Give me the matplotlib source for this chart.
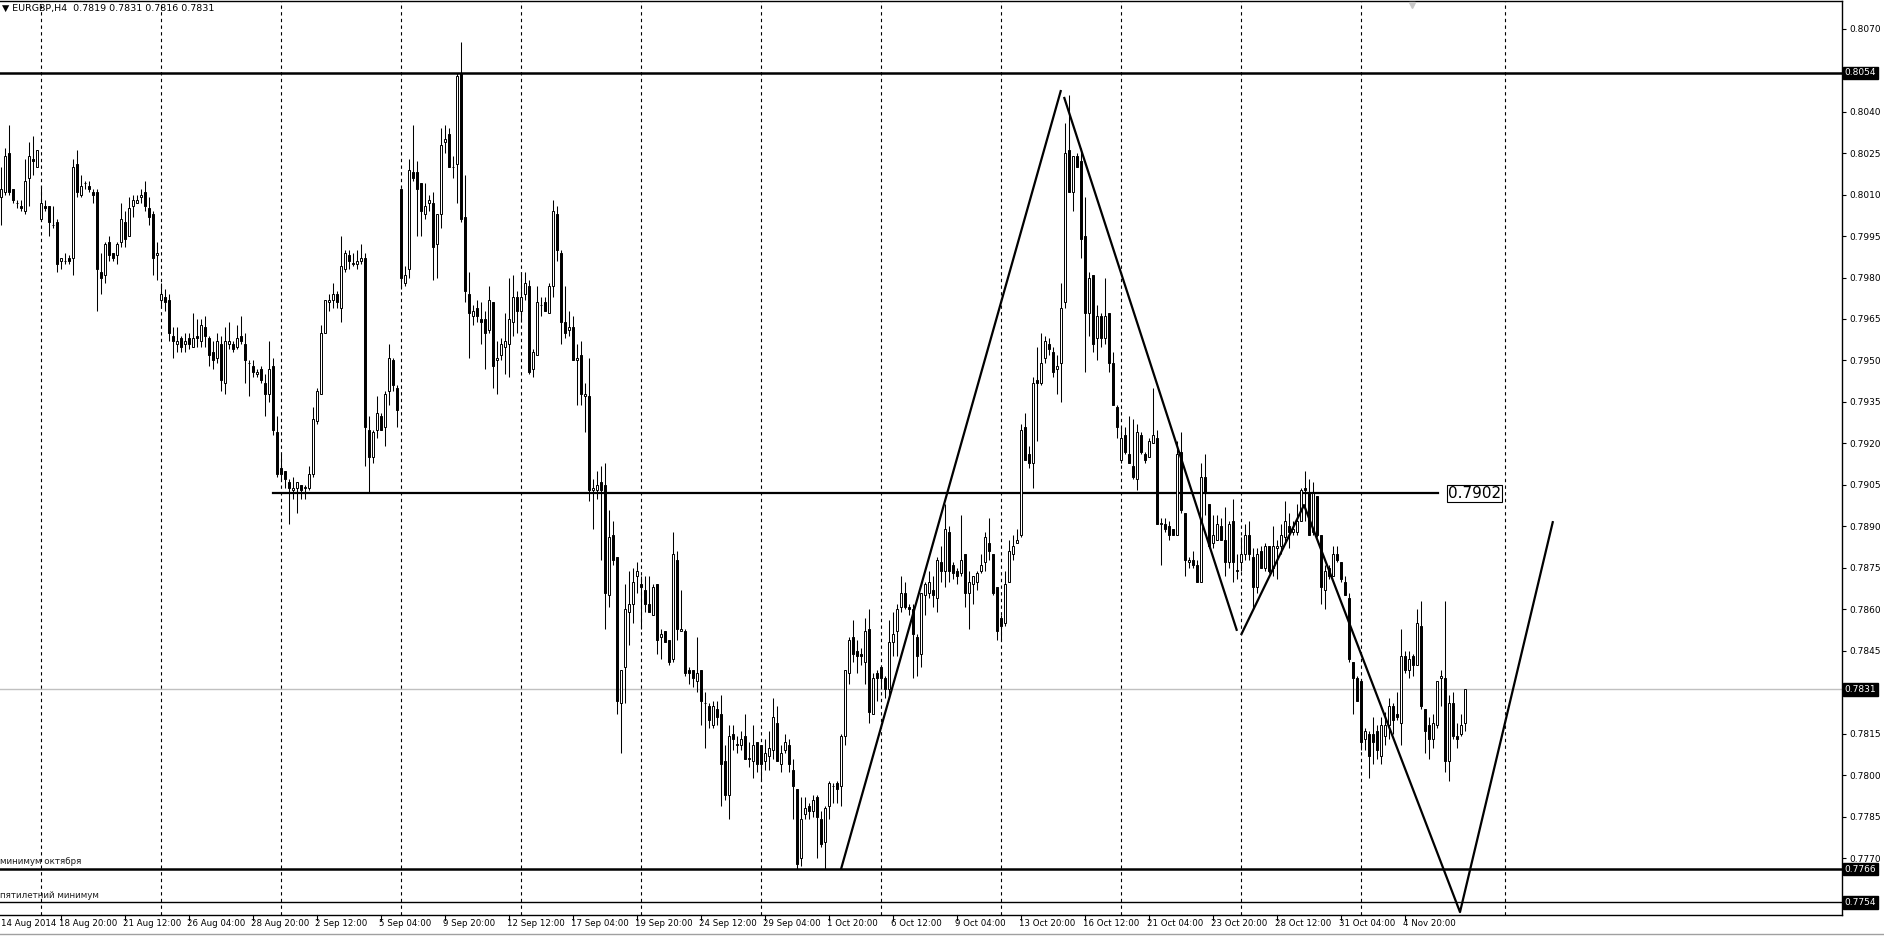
import matplotlib
matplotlib.use("Agg")
import matplotlib.pyplot as plt
from matplotlib.transforms import blended_transform_factory
from matplotlib.lines import Line2D
import numpy as np

# EURGBP H4, prices in pips (x 0.0001); bar 0 = 14 Aug 2014 08:00, last = 7 Nov 08:00
opens = [8009, 8011, 8025, 8012, 8007, 8006, 8004, 8016, 8023, 8020, 8001, 8006, 8006, 7999, 8000,
         7986, 7986, 7987, 7987, 8021, 8010, 8014, 8013, 8011, 8011, 7982, 7981, 7993, 7989, 7988,
         7993, 8000, 7995, 8006, 8007, 8009, 8011, 8005, 8003, 7988, 7972, 7973, 7972, 7959, 7956,
         7958, 7956, 7958, 7955, 7959, 7957, 7962, 7958, 7953, 7951, 7956, 7942, 7956, 7956, 7955,
         7959, 7956, 7949, 7948, 7945, 7947, 7942, 7938, 7948, 7924, 7911, 7910, 7906, 7903, 7904,
         7905, 7904, 7904, 7909, 7928, 7938, 7960, 7971, 7972, 7974, 7969, 7983, 7988, 7985, 7985,
         7986, 7987, 7925, 7915, 7925, 7930, 7926, 7939, 7950, 7940, 8012, 7978, 7983, 8018, 8018,
         8014, 8003, 8007, 8007, 7992, 8003, 8029, 8032, 8020, 8021, 8054, 8002, 7974, 7966, 7969,
         7965, 7965, 7961, 7971, 7950, 7952, 7955, 7956, 7964, 7973, 7968, 7974, 7977, 7947, 7952,
         7970, 7971, 7967, 7977, 8003, 7989, 7964, 7961, 7962, 7950, 7952, 7937, 7937, 7903, 7903,
         7906, 7905, 7865, 7887, 7879, 7826, 7839, 7859, 7862, 7872, 7869, 7867, 7862, 7858, 7869,
         7850, 7852, 7849, 7842, 7878, 7852, 7852, 7838, 7838, 7834, 7838, 7826, 7825, 7818, 7824,
         7822, 7805, 7793, 7815, 7811, 7811, 7814, 7806, 7805, 7812, 7811, 7805, 7807, 7809, 7819,
         7804, 7809, 7811, 7802, 7795, 7770, 7786, 7789, 7787, 7792, 7784, 7776, 7789, 7796, 7797,
         7796, 7814, 7837, 7850, 7845, 7844, 7841, 7853, 7822, 7837, 7839, 7835, 7831, 7848, 7852,
         7861, 7866, 7861, 7860, 7850, 7844, 7865, 7866, 7867, 7864, 7877, 7874, 7888, 7876, 7874,
         7873, 7880, 7866, 7869, 7870, 7874, 7877, 7884, 7880, 7868, 7857, 7855, 7870, 7880, 7884,
         7887, 7926, 7916, 7913, 7943, 7942, 7951, 7956, 7953, 7947, 7949, 7971, 8026, 8011, 8024,
         8022, 7995, 7967, 7981, 7958, 7966, 7958, 7967, 7949, 7933, 7914, 7923, 7916, 7912, 7907,
         7923, 7916, 7915, 7920, 7922, 7891, 7891, 7890, 7889, 7887, 7917, 7895, 7877, 7878, 7876,
         7870, 7908, 7898, 7884, 7885, 7890, 7885, 7877, 7892, 7874, 7877, 7880, 7887, 7879, 7868,
         7881, 7875, 7883, 7875, 7882, 7883, 7886, 7890, 7888, 7888, 7892, 7904, 7902, 7888, 7901,
         7887, 7867, 7875, 7872, 7880, 7877, 7870, 7864, 7841, 7835, 7834, 7813, 7815, 7815, 7816,
         7807, 7814, 7818, 7825, 7822, 7819, 7843, 7838, 7843, 7840, 7854, 7824, 7818, 7813, 7818,
         7835, 7835, 7805, 7826, 7814, 7815, 7819]
highs = [8020, 8027, 8035, 8012, 8008, 8008, 8023, 8029, 8031, 8026, 8013, 8008, 8006, 8006, 8001,
         7987, 7989, 7988, 8023, 8026, 8017, 8015, 8015, 8012, 8012, 7989, 7993, 7995, 7989, 7993,
         8007, 8004, 8009, 8010, 8010, 8012, 8015, 8009, 8004, 7993, 7978, 7976, 7974, 7962, 7962,
         7959, 7960, 7960, 7967, 7965, 7965, 7966, 7959, 7957, 7960, 7959, 7962, 7964, 7957, 7963,
         7966, 7960, 7950, 7950, 7947, 7948, 7945, 7957, 7951, 7930, 7916, 7910, 7907, 7908, 7906,
         7905, 7905, 7912, 7933, 7940, 7963, 7972, 7974, 7978, 7975, 7995, 7990, 7990, 7989, 7990,
         7992, 7989, 7930, 7925, 7937, 7931, 7939, 7956, 7951, 7941, 8012, 7984, 8023, 8035, 8022,
         8014, 8014, 8010, 8011, 8003, 8034, 8035, 8034, 8024, 8054, 8065, 8017, 7982, 7970, 7972,
         7971, 7968, 7977, 7971, 7957, 7958, 7967, 7980, 7981, 7975, 7982, 7982, 7979, 7954, 7977,
         7973, 7973, 7978, 8008, 8006, 7990, 7977, 7968, 7966, 7956, 7957, 7942, 7951, 7907, 7910,
         7912, 7913, 7896, 7892, 7879, 7838, 7869, 7874, 7875, 7877, 7872, 7872, 7872, 7869, 7869,
         7853, 7852, 7849, 7888, 7881, 7867, 7853, 7839, 7838, 7850, 7838, 7830, 7826, 7827, 7827,
         7829, 7811, 7818, 7818, 7814, 7816, 7822, 7812, 7818, 7812, 7811, 7813, 7816, 7828, 7825,
         7811, 7815, 7813, 7806, 7795, 7792, 7792, 7790, 7793, 7793, 7787, 7789, 7798, 7797, 7798,
         7815, 7838, 7850, 7856, 7849, 7846, 7857, 7860, 7837, 7838, 7840, 7836, 7856, 7859, 7862,
         7872, 7870, 7862, 7862, 7851, 7866, 7870, 7874, 7872, 7879, 7883, 7898, 7890, 7877, 7875,
         7894, 7880, 7874, 7872, 7874, 7880, 7888, 7893, 7880, 7868, 7858, 7874, 7885, 7887, 7889,
         7927, 7931, 7919, 7944, 7955, 7960, 7959, 7958, 7955, 7952, 7978, 8036, 8046, 8024, 8025,
         8027, 8009, 7982, 7981, 7970, 7967, 7980, 7967, 7953, 7934, 7926, 7926, 7930, 7929, 7927,
         7924, 7917, 7922, 7940, 7925, 7893, 7893, 7892, 7889, 7921, 7924, 7895, 7879, 7881, 7878,
         7913, 7916, 7898, 7894, 7894, 7893, 7897, 7892, 7900, 7880, 7886, 7891, 7892, 7882, 7882,
         7883, 7884, 7883, 7890, 7885, 7891, 7899, 7895, 7892, 7898, 7904, 7910, 7907, 7906, 7901,
         7887, 7876, 7876, 7883, 7883, 7877, 7872, 7866, 7841, 7836, 7834, 7817, 7816, 7821, 7818,
         7821, 7823, 7828, 7826, 7830, 7853, 7845, 7845, 7844, 7860, 7863, 7824, 7821, 7822, 7834,
         7838, 7863, 7829, 7830, 7819, 7822, 7831]
lows = [7999, 8010, 8010, 8007, 8005, 8004, 8003, 8006, 8017, 8020, 8001, 8004, 7995, 7998, 7982,
        7983, 7985, 7985, 7981, 8009, 8009, 8012, 8011, 8007, 7968, 7974, 7978, 7986, 7986, 7985,
        7991, 7991, 7995, 8002, 8007, 8007, 8004, 7999, 7981, 7979, 7969, 7968, 7957, 7951, 7953,
        7953, 7953, 7954, 7955, 7955, 7955, 7955, 7948, 7947, 7949, 7939, 7938, 7954, 7953, 7954,
        7956, 7942, 7937, 7944, 7944, 7942, 7930, 7935, 7923, 7908, 7907, 7904, 7891, 7900, 7895,
        7900, 7900, 7903, 7908, 7927, 7938, 7960, 7968, 7969, 7969, 7964, 7982, 7983, 7984, 7983,
        7985, 7912, 7902, 7913, 7922, 7925, 7919, 7934, 7939, 7926, 7976, 7977, 7980, 8015, 7995,
        7995, 8001, 8004, 7979, 7980, 7998, 8025, 8020, 8016, 8007, 8000, 7971, 7951, 7963, 7964,
        7956, 7947, 7960, 7940, 7938, 7950, 7945, 7944, 7959, 7960, 7964, 7972, 7945, 7944, 7952,
        7966, 7968, 7967, 7973, 7986, 7956, 7958, 7959, 7950, 7934, 7934, 7924, 7899, 7889, 7900,
        7878, 7853, 7861, 7876, 7822, 7808, 7826, 7847, 7855, 7866, 7853, 7859, 7859, 7858, 7844,
        7842, 7848, 7840, 7841, 7849, 7852, 7836, 7833, 7832, 7830, 7818, 7810, 7817, 7817, 7818,
        7789, 7791, 7784, 7809, 7808, 7809, 7806, 7803, 7799, 7801, 7798, 7802, 7802, 7806, 7805,
        7801, 7808, 7801, 7784, 7766, 7767, 7784, 7784, 7785, 7770, 7774, 7766, 7784, 7790, 7790,
        7789, 7811, 7833, 7841, 7837, 7840, 7833, 7819, 7822, 7827, 7831, 7828, 7828, 7843, 7843,
        7859, 7860, 7858, 7835, 7836, 7839, 7858, 7864, 7861, 7859, 7870, 7868, 7870, 7871, 7869,
        7872, 7861, 7853, 7862, 7867, 7873, 7874, 7878, 7865, 7849, 7849, 7854, 7870, 7878, 7884,
        7886, 7914, 7911, 7904, 7921, 7941, 7949, 7952, 7944, 7938, 7935, 7969, 8011, 8004, 8020,
        7987, 7946, 7959, 7953, 7950, 7955, 7956, 7946, 7934, 7922, 7913, 7916, 7913, 7907, 7903,
        7916, 7913, 7915, 7920, 7891, 7876, 7888, 7885, 7887, 7887, 7895, 7872, 7875, 7875, 7870,
        7870, 7894, 7882, 7882, 7885, 7885, 7872, 7875, 7870, 7871, 7874, 7878, 7878, 7860, 7866,
        7875, 7874, 7873, 7872, 7871, 7880, 7884, 7882, 7887, 7887, 7892, 7892, 7887, 7887, 7886,
        7862, 7860, 7871, 7872, 7877, 7870, 7865, 7841, 7822, 7827, 7809, 7809, 7799, 7804, 7806,
        7804, 7811, 7813, 7815, 7820, 7811, 7837, 7835, 7836, 7840, 7824, 7808, 7806, 7810, 7817,
        7825, 7801, 7798, 7813, 7810, 7814, 7816]
closes = [8012, 8024, 8011, 8008, 8007, 8005, 8015, 8024, 8022, 8026, 8007, 8005, 8000, 7999, 7985,
          7987, 7986, 7986, 8020, 8011, 8013, 8014, 8012, 8010, 7983, 7980, 7992, 7988, 7987, 7992,
          8001, 7994, 8005, 8008, 8008, 8010, 8006, 8002, 7987, 7989, 7974, 7971, 7960, 7957, 7957,
          7955, 7957, 7956, 7958, 7958, 7963, 7959, 7952, 7950, 7957, 7943, 7957, 7957, 7954, 7958,
          7957, 7950, 7949, 7946, 7946, 7943, 7938, 7947, 7925, 7909, 7909, 7907, 7904, 7904, 7906,
          7903, 7904, 7909, 7929, 7939, 7960, 7972, 7972, 7974, 7971, 7984, 7989, 7986, 7985, 7986,
          7987, 7926, 7915, 7924, 7931, 7925, 7938, 7951, 7941, 7932, 7980, 7981, 8019, 8016, 8012,
          8004, 8006, 8008, 7991, 8003, 8028, 8030, 8020, 8020, 8053, 8001, 7975, 7967, 7968, 7966,
          7964, 7960, 7972, 7948, 7951, 7956, 7957, 7965, 7973, 7968, 7973, 7978, 7946, 7953, 7971,
          7970, 7968, 7977, 8004, 7990, 7964, 7960, 7962, 7950, 7951, 7938, 7938, 7903, 7904, 7905,
          7903, 7866, 7886, 7878, 7827, 7838, 7860, 7862, 7870, 7874, 7868, 7862, 7859, 7868, 7849,
          7851, 7848, 7841, 7880, 7853, 7853, 7837, 7837, 7835, 7837, 7827, 7826, 7820, 7825, 7821,
          7804, 7793, 7814, 7813, 7811, 7813, 7806, 7806, 7811, 7804, 7804, 7808, 7810, 7821, 7805,
          7808, 7812, 7804, 7796, 7768, 7784, 7788, 7787, 7791, 7785, 7775, 7788, 7797, 7796, 7795,
          7814, 7838, 7849, 7844, 7843, 7843, 7852, 7823, 7835, 7835, 7835, 7831, 7848, 7851, 7860,
          7866, 7861, 7860, 7851, 7843, 7866, 7869, 7870, 7865, 7878, 7874, 7889, 7874, 7873, 7872,
          7878, 7866, 7870, 7872, 7873, 7876, 7886, 7881, 7866, 7852, 7854, 7869, 7881, 7883, 7885,
          7925, 7914, 7913, 7942, 7942, 7949, 7957, 7954, 7946, 7948, 7969, 8025, 8011, 8024, 8020,
          7994, 7967, 7980, 7956, 7966, 7958, 7966, 7949, 7934, 7926, 7922, 7917, 7913, 7908, 7924,
          7917, 7914, 7921, 7923, 7891, 7891, 7889, 7887, 7887, 7916, 7896, 7878, 7878, 7876, 7870,
          7908, 7902, 7883, 7887, 7891, 7885, 7877, 7891, 7877, 7874, 7880, 7887, 7880, 7868, 7880,
          7875, 7883, 7874, 7883, 7883, 7887, 7892, 7888, 7889, 7892, 7903, 7903, 7887, 7902, 7887,
          7868, 7874, 7872, 7880, 7878, 7871, 7865, 7842, 7835, 7827, 7812, 7816, 7807, 7812, 7809,
          7818, 7818, 7825, 7820, 7821, 7843, 7838, 7842, 7840, 7855, 7825, 7816, 7813, 7819, 7834,
          7836, 7805, 7826, 7814, 7813, 7818, 7831]

time_labels = ["14 Aug 2014", "18 Aug 20:00", "21 Aug 12:00", "26 Aug 04:00", "28 Aug 20:00",
               "2 Sep 12:00", "5 Sep 04:00", "9 Sep 20:00", "12 Sep 12:00", "17 Sep 04:00",
               "19 Sep 20:00", "24 Sep 12:00", "29 Sep 04:00", "1 Oct 20:00", "6 Oct 12:00",
               "9 Oct 04:00", "13 Oct 20:00", "16 Oct 12:00", "21 Oct 04:00", "23 Oct 20:00",
               "28 Oct 12:00", "31 Oct 04:00", "4 Nov 20:00"]
price_ticks = [0.8070, 0.8040, 0.8025, 0.8010, 0.7995, 0.7980, 0.7965, 0.7950, 0.7935, 0.7920,
               0.7905, 0.7890, 0.7875, 0.7860, 0.7845, 0.7815, 0.7800, 0.7785, 0.7770]

# drawn levels
level_high = 0.8054
level_mid = 0.7902
level_oct_min = 0.7766
level_5y_min = 0.7754
last_price = 0.7831

# zigzag (bar index, price)
zz1_x = [210, 265]
zz1_y = [0.7766, 0.80478]
zz2_x = [265.75, 309]
zz2_y = [0.80453, 0.78522]
zz3_x = [310, 325.75, 364.75, 388]
zz3_y = [0.78507, 0.78977, 0.77505, 0.78919]

o = np.array(opens) / 10000
h = np.array(highs) / 10000
l = np.array(lows) / 10000
c = np.array(closes) / 10000
idx = np.arange(len(o))

W, H = 1884, 939
fig = plt.figure(figsize=(W / 100, H / 100), dpi=100)
fig.patch.set_facecolor('white')
ax = fig.add_axes([0, 1 - 915 / H, 1842 / W, 914 / H])
ax.set_xlim(-0.25, 460.25)
ax.set_ylim(0.774944, 0.8080)

for s in ['top', 'right', 'bottom']:
    ax.spines[s].set_linewidth(1.0)
ax.spines['left'].set_visible(False)

# weekly separators (Monday 00:00) + one in the shifted area
for gx in list(range(10, 341, 30)) + [376]:
    ax.axvline(gx, color='black', lw=0.8, ls=(0, (3, 3)), zorder=1)

# levels
ax.axhline(last_price, color='#c0c0c0', lw=1.0, zorder=1)
ax.axhline(level_high, color='black', lw=1.8, zorder=2)
ax.axhline(level_oct_min, color='black', lw=1.8, zorder=2)
ax.axhline(level_5y_min, color='black', lw=1.0, zorder=2)
ax.plot([68, 359.25], [level_mid, level_mid], color='black', lw=1.6, zorder=2)
ax.text(361.75, level_mid, "0.7902", fontsize=11, va='center', ha='left',
        bbox=dict(facecolor='white', edgecolor='black', lw=0.8, pad=0.8), zorder=6)

# candles
ax.vlines(idx, l, h, color='black', lw=0.75, zorder=3)
up = c >= o
body_h = np.maximum(np.abs(c - o), 0.000012)
body_b = np.minimum(o, c)
ax.bar(idx[up], body_h[up], bottom=body_b[up], width=0.62, color='white',
       edgecolor='black', lw=0.7, zorder=4)
ax.bar(idx[~up], body_h[~up], bottom=body_b[~up], width=0.62, color='black',
       edgecolor='black', lw=0.7, zorder=4)

# zigzag
for zx, zy in [(zz1_x, zz1_y), (zz2_x, zz2_y), (zz3_x, zz3_y)]:
    ax.plot(zx, zy, color='black', lw=1.6, zorder=5, solid_capstyle='butt')

# level notes
ax.text(-0.25, 0.77688, "минимум октября", fontsize=6.3, color='#202020', va='center', ha='left')
ax.text(-0.25, 0.77564, "пятилетний минимум", fontsize=6.3, color='#202020', va='center', ha='left')

# chart shift marker
ax.plot([352.75], [0.80785], marker='v', color='#c8c8c8', ms=5, zorder=6, clip_on=False)

# price axis
ax.yaxis.tick_right()
ax.set_yticks(price_ticks)
ax.set_yticklabels([f"{p:.4f}" for p in price_ticks])
ax.tick_params(axis='y', length=3, width=0.8, pad=2, labelsize=6.5)
tr = blended_transform_factory(ax.transAxes, ax.transData)
for p in [level_high, last_price, level_oct_min, level_5y_min]:
    ax.text(1.0015, p, f"{p:.4f}", transform=tr, fontsize=6.5, color='white', va='center',
            ha='left', bbox=dict(facecolor='black', edgecolor='black', pad=1.2), clip_on=False)

# time axis
ax.set_xticks([])
trx = blended_transform_factory(ax.transData, ax.transAxes)
for j, lab in enumerate(time_labels):
    xpos = -1 + 16 * j
    tx = max(xpos - 0.5, -0.1)
    ax.text(tx, -0.004, lab, transform=trx, fontsize=6.2, va='top', ha='left', clip_on=False)
    if j > 0:
        ax.plot([xpos, xpos], [0, -0.005], transform=trx, color='black', lw=0.8, clip_on=False)

# header
fig.text(2 / W, 1 - 8 / H, "\u25BC EURGBP,H4  0.7819 0.7831 0.7816 0.7831", fontsize=6.8,
         va='center', ha='left')

# bottom tab strip
fig.add_artist(Line2D([0, 1], [1 - 934 / H, 1 - 934 / H], color='#a0a0a0', lw=1.0))

fig.savefig("out.png", dpi=100, facecolor='white')
